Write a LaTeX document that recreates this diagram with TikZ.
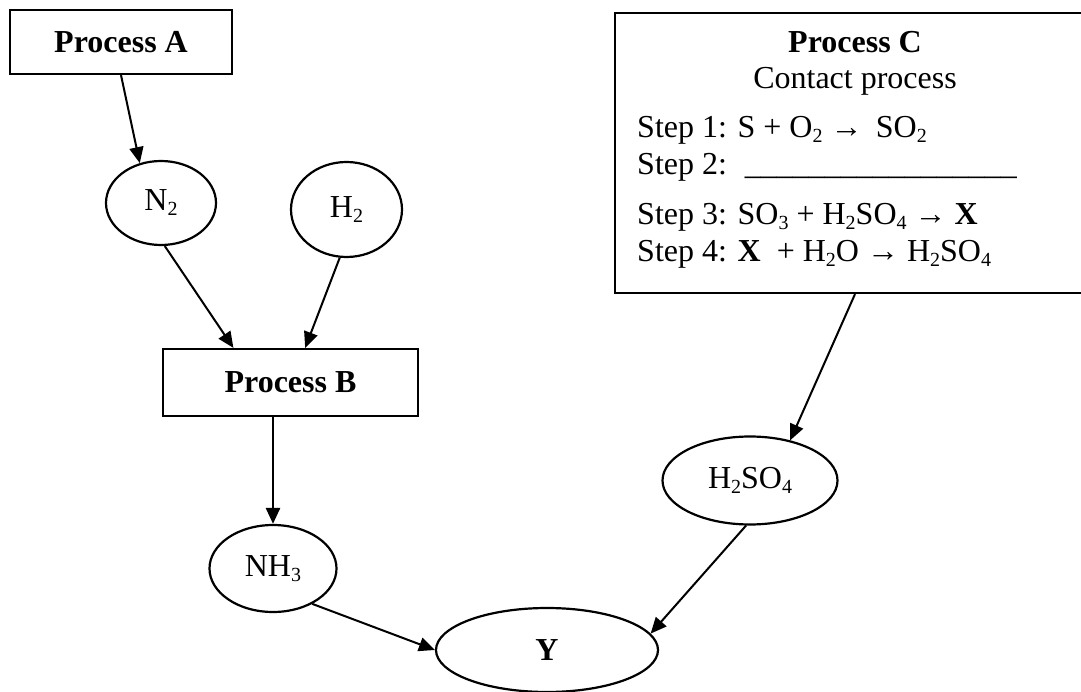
\documentclass[tikz,border=0pt]{standalone}
\usepackage{fontspec}
\setmainfont{Liberation Serif}
\usetikzlibrary{arrows.meta,calc,shapes.geometric}
\newcommand\chsub[1]{\raisebox{-5pt}{\fontsize{20}{20}\selectfont #1}}
\begin{document}
\begin{tikzpicture}[x=1pt,y=-1pt,
  txt/.style={inner sep=0pt, font=\fontsize{32}{38}\selectfont},
  procbox/.style={draw, rectangle, line width=2.2pt, inner sep=0pt, font=\fontsize{32}{38}\selectfont\bfseries},
  chem/.style={draw, ellipse, line width=2.2pt, inner sep=0pt, font=\fontsize{32}{38}\selectfont},
  link/.style={line width=2pt, -{Triangle[length=16pt,width=14pt]}}
]
\useasboundingbox (0,0) rectangle (1081,692);
\clip (0,0) rectangle (1081,692);

% nodes
\node[procbox, minimum width=222pt, minimum height=64pt] (A) at (121,42) {Process A};
\node[chem, minimum width=110pt, minimum height=84pt] (N2) at (161,203) {N\chsub{2}};
\node[chem, minimum width=111pt, minimum height=95pt] (H2) at (346.5,209.5) {H\chsub{2}};
\node[procbox, minimum width=255pt, minimum height=67pt] (B) at (290.5,382.5) {Process B};
\node[chem, minimum width=127pt, minimum height=87pt] (NH3) at (273,568.5) {NH\chsub{3}};
\node[chem, minimum width=222pt, minimum height=84pt] (Y) at (547,650) {\textbf{Y}};
\node[chem, minimum width=175pt, minimum height=88pt] (H2SO4) at (750,480.5) {H\chsub{2}SO\chsub{4}};
\node[procbox, minimum width=480pt, minimum height=280pt] (C) at (855,153) {};

% text of process C
\node[txt, anchor=base] (Ctitle) at (855,53) {\textbf{Process C}};
\node[txt, anchor=base] (Csub) at (855,89) {Contact process};
\node[txt, anchor=base west] (s1) at (637,138) {Step 1: S + O\chsub{2} → \,SO\chsub{2}};
\node[txt, anchor=base west] (s2) at (637,175) {Step 2:\hspace{18pt}\_\_\_\_\_\_\_\_\_\_\_\_\_\_\_\_\_};
\node[txt, anchor=base west] (s3) at (637,225) {Step 3: SO\chsub{3} + H\chsub{2}SO\chsub{4} → \textbf{X}};
\node[txt, anchor=base west] (s4) at (637,262) {Step 4: \textbf{X} \ + H\chsub{2}O → H\chsub{2}SO\chsub{4}};

% connectors
\draw[link] (A.south) -- (N2.118);
\draw[link] (N2.-85) -- ($(B.north west)!0.278!(B.north east)$);
\draw[link] (H2.-98) -- ($(B.north west)!0.557!(B.north east)$);
\draw[link, line width=2.6pt] (NH3.north |- B.south) -- (NH3.north);
\draw[link] (NH3.-42) -- (Y.west);
\draw[link] (H2SO4.-95) -- (Y.9);
\draw[link] (C.south) -- (H2SO4.45);
\end{tikzpicture}
\end{document}
